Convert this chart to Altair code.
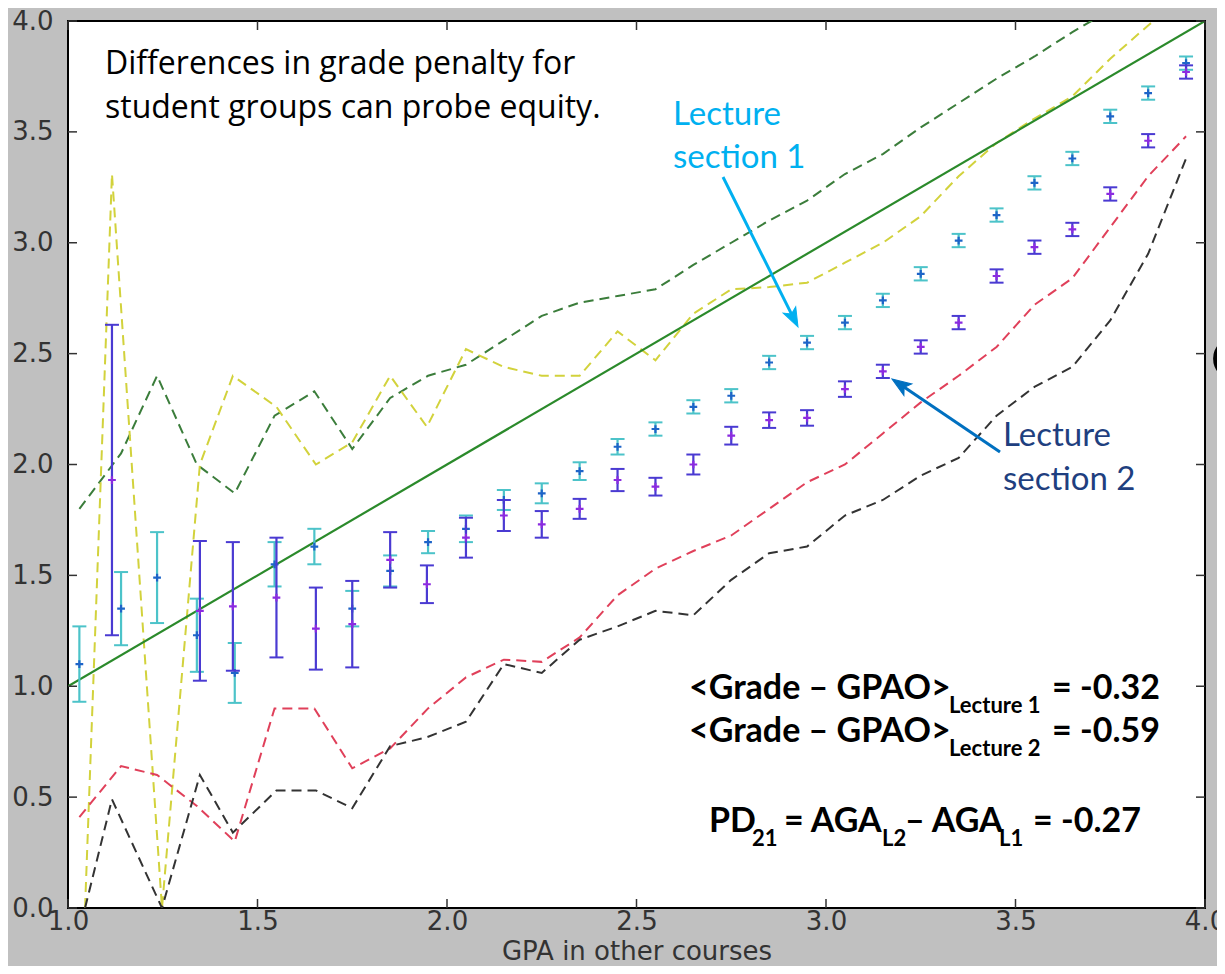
import math
import altair as alt
import pandas as pd

# ---------------- data ----------------
x_ticks = [1.0, 1.5, 2.0, 2.5, 3.0, 3.5, 4.0]
y_ticks = [0.0, 0.5, 1.0, 1.5, 2.0, 2.5, 3.0, 3.5, 4.0]

diag_x = [1.0, 4.0]
diag_y = [1.0, 4.0]

# Lecture section 1 (bin mean GPA in other courses, mean grade, error)
x_l1 = [1.03, 1.14, 1.235, 1.34, 1.44, 1.545, 1.65, 1.75, 1.85, 1.95,
        2.05, 2.15, 2.25, 2.35, 2.45, 2.55, 2.65, 2.75, 2.85, 2.95,
        3.05, 3.15, 3.25, 3.35, 3.45, 3.55, 3.65, 3.75, 3.85, 3.95]
mean_l1 = [1.10, 1.35, 1.49, 1.23, 1.06, 1.55, 1.63, 1.35, 1.52, 1.65,
           1.71, 1.84, 1.87, 1.97, 2.08, 2.16, 2.26, 2.31, 2.46, 2.55,
           2.64, 2.74, 2.86, 3.01, 3.125, 3.27, 3.38, 3.57, 3.675, 3.81]
err_l1 = [0.17, 0.165, 0.205, 0.165, 0.135, 0.10, 0.08, 0.08, 0.07, 0.05,
          0.06, 0.045, 0.045, 0.04, 0.035, 0.03, 0.03, 0.03, 0.03, 0.03,
          0.03, 0.03, 0.03, 0.03, 0.03, 0.03, 0.03, 0.03, 0.03, 0.03]
upper_l1 = [1.80, 2.05, 2.40, 2.00, 1.87, 2.22, 2.33, 2.07, 2.30, 2.40,
            2.45, 2.56, 2.67, 2.73, 2.76, 2.79, 2.90, 3.00, 3.10, 3.19,
            3.31, 3.40, 3.52, 3.63, 3.74, 3.84, 3.95, 4.05, 4.10, 4.14]
lower_l1 = [0.41, 0.64, 0.60, 0.46, 0.30, 0.90, 0.90, 0.63, 0.72, 0.90,
            1.04, 1.12, 1.11, 1.22, 1.41, 1.53, 1.61, 1.68, 1.80, 1.92,
            2.00, 2.14, 2.28, 2.40, 2.53, 2.72, 2.84, 3.07, 3.30, 3.48]

# Lecture section 2
x_l2 = [1.045, 1.116, 1.248, 1.348, 1.435, 1.55, 1.654, 1.75, 1.85, 1.947,
        2.05, 2.15, 2.25, 2.35, 2.45, 2.55, 2.65, 2.75, 2.85, 2.95,
        3.05, 3.15, 3.25, 3.35, 3.45, 3.55, 3.65, 3.75, 3.85, 3.95]
mean_l2 = [None, 1.93, None, 1.34, 1.36, 1.40, 1.26, 1.28, 1.57, 1.46,
           1.67, 1.77, 1.73, 1.80, 1.93, 1.90, 2.00, 2.13, 2.20, 2.21,
           2.34, 2.42, 2.53, 2.64, 2.85, 2.98, 3.06, 3.22, 3.46, 3.77]
err_l2 = [None, 0.70, None, 0.315, 0.29, 0.27, 0.185, 0.195, 0.125, 0.085,
          0.09, 0.07, 0.06, 0.045, 0.05, 0.04, 0.045, 0.04, 0.035, 0.035,
          0.035, 0.03, 0.03, 0.03, 0.03, 0.03, 0.03, 0.03, 0.03, 0.03]
upper_l2 = [0.0, 3.31, 0.0, 2.00, 2.40, 2.26, 2.00, 2.10, 2.40, 2.17,
            2.52, 2.44, 2.40, 2.40, 2.60, 2.47, 2.68, 2.79, 2.80, 2.82,
            2.91, 3.00, 3.12, 3.30, 3.45, 3.56, 3.66, 3.83, 3.98, 4.12]
lower_l2 = [0.0, 0.49, 0.0, 0.60, 0.34, 0.53, 0.53, 0.45, 0.73, 0.77,
            0.84, 1.10, 1.06, 1.21, 1.27, 1.34, 1.32, 1.48, 1.60, 1.63,
            1.77, 1.84, 1.95, 2.03, 2.22, 2.35, 2.44, 2.65, 2.95, 3.38]

band_names = ["L1 upper", "L2 upper", "L1 lower", "L2 lower"]
band_colors = ["#3b7d3b", "#d2d23c", "#e0405a", "#333333"]

# ---------------- layout ----------------
W, H = 1137, 887
PX0, PY0 = 68, 21          # page position of plot origin

def rx(px):
    return px - PX0

def ry(py):
    return py - PY0

sx = alt.Scale(domain=[1.0, 4.0], nice=False, zero=False)
sy = alt.Scale(domain=[0.0, 4.0], nice=False, zero=False)

FONT_AX = "DejaVu Sans"
ax_x = alt.Axis(values=x_ticks, format=".1f", labelFont=FONT_AX, labelFontSize=26,
                labelColor="#333333", labelPadding=21, labelBaseline="alphabetic",
                ticks=False, domain=False, grid=False, labelFlush=False,
                labelOverlap=False, title="GPA in other courses", titleFont=FONT_AX,
                titleFontSize=26, titleFontWeight="normal", titleColor="#333333",
                titleY=51, titleBaseline="alphabetic")
ax_y = alt.Axis(values=y_ticks, format=".1f", labelFont=FONT_AX, labelFontSize=26,
                labelColor="#333333", labelPadding=15, ticks=False,
                domain=False, grid=False, labelFlush=False, labelOverlap=False,
                title=None)

# ---------------- tables ----------------
bands = []
for name, xs, ys in [("L1 upper", x_l1, upper_l1), ("L2 upper", x_l2, upper_l2),
                     ("L1 lower", x_l1, lower_l1), ("L2 lower", x_l2, lower_l2)]:
    for a, b in zip(xs, ys):
        bands.append({"series": name, "x": a, "y": b})
bands = pd.DataFrame(bands)

def err_table(xs, ms, es):
    rows = []
    for a, m, e in zip(xs, ms, es):
        if m is None:
            continue
        rows.append({"x": a, "y": m, "lo": m - e, "hi": m + e})
    return pd.DataFrame(rows)

e1 = err_table(x_l1, mean_l1, err_l1)
e2 = err_table(x_l2, mean_l2, err_l2)

diag = pd.DataFrame({"x": diag_x, "y": diag_y})

# ---------------- layers ----------------
band_layer = alt.Chart(bands).mark_line(strokeWidth=2, strokeDash=[10, 6], clip=True).encode(
    x=alt.X("x:Q", scale=sx, axis=ax_x),
    y=alt.Y("y:Q", scale=sy, axis=ax_y),
    color=alt.Color("series:N", scale=alt.Scale(domain=band_names, range=band_colors), legend=None),
    detail="series:N",
)

diag_layer = alt.Chart(diag).mark_line(color="#2b8a2b", strokeWidth=2.2, clip=True).encode(
    x=alt.X("x:Q", scale=sx, axis=ax_x),
    y=alt.Y("y:Q", scale=sy, axis=ax_y),
)

CROSS = "M-1,0L1,0M0,-1L0,1"

def err_layers(df, bar_color, mark_color):
    base = alt.Chart(df)
    stem = base.mark_rule(color=bar_color, strokeWidth=2.2, clip=True).encode(
        x=alt.X("x:Q", scale=sx, axis=ax_x),
        y=alt.Y("lo:Q", scale=sy, axis=ax_y),
        y2="hi:Q",
    )
    cap_lo = base.mark_rule(color=bar_color, strokeWidth=2, xOffset=-7, x2Offset=7, clip=True).encode(
        x=alt.X("x:Q", scale=sx, axis=ax_x),
        x2="x:Q",
        y=alt.Y("lo:Q", scale=sy, axis=ax_y),
    )
    cap_hi = base.mark_rule(color=bar_color, strokeWidth=2, xOffset=-7, x2Offset=7, clip=True).encode(
        x=alt.X("x:Q", scale=sx, axis=ax_x),
        x2="x:Q",
        y=alt.Y("hi:Q", scale=sy, axis=ax_y),
    )
    mk = base.mark_point(shape=CROSS, size=60, filled=False, stroke=mark_color,
                         strokeWidth=2.2, opacity=1, clip=True).encode(
        x=alt.X("x:Q", scale=sx, axis=ax_x),
        y=alt.Y("y:Q", scale=sy, axis=ax_y),
    )
    return [stem, cap_lo, cap_hi, mk]

l1_layers = err_layers(e1, "#4cc3c9", "#1e64c8")
l2_layers = err_layers(e2, "#4a3ad2", "#8b2be0")

# inner ticks (matplotlib style, pointing into the plot)
xt = pd.DataFrame({"x": x_ticks})
yt = pd.DataFrame({"y": y_ticks})
TICK_C = "#333333"
tick_layers = [
    alt.Chart(xt).mark_rule(color=TICK_C, strokeWidth=1.5).encode(
        x=alt.X("x:Q", scale=sx, axis=ax_x), y=alt.value(H), y2=alt.value(H - 9)),
    alt.Chart(xt).mark_rule(color=TICK_C, strokeWidth=1.5).encode(
        x=alt.X("x:Q", scale=sx, axis=ax_x), y=alt.value(0), y2=alt.value(9)),
    alt.Chart(yt).mark_rule(color=TICK_C, strokeWidth=1.5).encode(
        y=alt.Y("y:Q", scale=sy, axis=ax_y), x=alt.value(0), x2=alt.value(9)),
    alt.Chart(yt).mark_rule(color=TICK_C, strokeWidth=1.5).encode(
        y=alt.Y("y:Q", scale=sy, axis=ax_y), x=alt.value(W), x2=alt.value(W - 9)),
]

# ---------------- annotations ----------------
def note(text, px, py, size, color, weight="normal", font="Lato"):
    return alt.Chart(pd.DataFrame({"t": [text]})).mark_text(
        align="left", baseline="alphabetic", fontSize=size, font=font,
        fontWeight=weight, color=color,
    ).encode(x=alt.value(rx(px)), y=alt.value(ry(py)), text="t:N")

CYAN = "#00b0f0"
NAVY = "#1f3f7f"
ARROW_BLUE = "#0070c0"

notes = [
    note("Differences in grade penalty for", 105, 74, 32, "#000000", font="Open Sans"),
    note("student groups can probe equity.", 105, 118, 32, "#000000", font="Open Sans"),
    note("Lecture", 673, 125, 33, CYAN),
    note("section 1", 673, 168, 33, CYAN),
    note("Lecture", 1003, 446, 33, NAVY),
    note("section 2", 1003, 490, 33, NAVY),
    # formulas
    note("<Grade \u2013 GPAO>", 689, 699, 34, "#000000", "bold"),
    note("Lecture 1", 949, 713, 22, "#000000", "bold"),
    note("= -0.32", 1052, 699, 34, "#000000", "bold"),
    note("<Grade \u2013 GPAO>", 689, 742, 34, "#000000", "bold"),
    note("Lecture 2", 949, 756, 22, "#000000", "bold"),
    note("= -0.59", 1052, 742, 34, "#000000", "bold"),
    note("PD", 709, 832, 34, "#000000", "bold"),
    note("21", 752, 846, 22, "#000000", "bold"),
    note("= AGA", 784, 832, 34, "#000000", "bold"),
    note("L2", 882, 846, 22, "#000000", "bold"),
    note("\u2013 AGA", 905, 832, 34, "#000000", "bold"),
    note("L1", 999, 846, 22, "#000000", "bold"),
    note("= -0.27", 1033, 832, 34, "#000000", "bold"),
    note("C", 1211, 378, 54, "#000000", "bold"),
]

ARROW_HEAD = "M0,0L0.55,1.5L0,1.15L-0.55,1.5Z"

def arrow(p0, p1, color):
    (x0, y0), (x1, y1) = p0, p1
    dx, dy = x1 - x0, y1 - y0
    L = math.hypot(dx, dy)
    ux, uy = dx / L, dy / L
    ex, ey = x1 - ux * 10, y1 - uy * 10
    ang = math.degrees(math.atan2(dx, -dy)) % 360
    one = pd.DataFrame({"k": [0]})
    shaft = alt.Chart(one).mark_rule(color=color, strokeWidth=3).encode(
        x=alt.value(rx(x0)), y=alt.value(ry(y0)), x2=alt.value(rx(ex)), y2=alt.value(ry(ey)))
    head = alt.Chart(one).mark_point(shape=ARROW_HEAD, size=650, filled=True, fill=color,
                                     stroke=color, strokeWidth=1, opacity=1, angle=ang).encode(
        x=alt.value(rx(x1)), y=alt.value(ry(y1)))
    return [shaft, head]

arrows = arrow((723, 177), (798, 327), CYAN) + arrow((1000, 452), (892, 379), ARROW_BLUE)

chart = alt.layer(
    band_layer, diag_layer, *l1_layers, *l2_layers, *tick_layers, *notes, *arrows
).properties(
    width=W, height=H,
    padding={"left": 60, "top": 13, "right": 12, "bottom": 58},
    autosize=alt.AutoSizeParams(type="none"),
    background="#c0c0c0",
).configure_view(
    fill="white", stroke="black", strokeWidth=2,
)

chart.save("out.html", embed_options={"renderer": "svg", "actions": False})
